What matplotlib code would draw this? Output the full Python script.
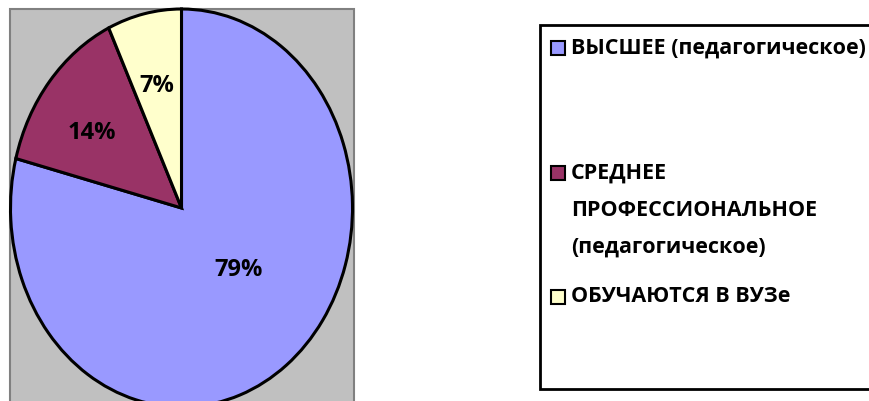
import matplotlib
matplotlib.use("Agg")
import matplotlib.pyplot as plt
from matplotlib.patches import Rectangle

plt.rcParams['font.family'] = ['Open Sans', 'DejaVu Sans']

categories = ["ВЫСШЕЕ (педагогическое)",
              "СРЕДНЕЕ\nПРОФЕССИОНАЛЬНОЕ\n(педагогическое)",
              "ОБУЧАЮТСЯ В ВУЗе"]
values = [79, 14, 7]
colors = ["#9999FF", "#993366", "#FFFFCC"]

W, H = 869, 401
fig = plt.figure(figsize=(W / 100, H / 100), dpi=100)
fig.patch.set_facecolor("white")

def fx(px):
    return px / W

def fy(py):
    return 1 - py / H

# plot area background
fig.patches.append(Rectangle((fx(9.5), fy(420)), fx(344.5), (420 - 8.5) / H,
                             transform=fig.transFigure, facecolor="#C0C0C0",
                             edgecolor="#808080", linewidth=1.5, zorder=-5))

# pie axes (ellipse: center (181.5, 208), rx 171, ry 199)
cx, cy, rx, ry = 181.5, 208, 171, 199
ax = fig.add_axes([fx(cx - rx), fy(cy + ry), 2 * rx / W, 2 * ry / H])
ax.set_zorder(2)
wedges, texts, autotexts = ax.pie(values, colors=colors, startangle=90, counterclock=False,
                                  autopct="%1.0f%%", pctdistance=0.6,
                                  wedgeprops=dict(edgecolor="black", linewidth=2.2),
                                  textprops=dict(fontsize=17, fontweight="bold", color="black"))
ax.set_xlim(-1.0, 1.0)
ax.set_ylim(-1.0, 1.0)
ax.set_aspect("auto")
ax.axis("off")
ax.patch.set_visible(False)

label_pos = [(238.5, 270), (92, 133), (157, 86)]
for t, (px, py) in zip(autotexts, label_pos):
    t.set_position(((px - cx) / rx, (cy - py) / ry))
    t.set_ha("center")
    t.set_va("center")

# legend
fig.patches.append(Rectangle((fx(540), fy(389)), fx(400), (389 - 25) / H,
                             transform=fig.transFigure, facecolor="white",
                             edgecolor="black", linewidth=2, zorder=-4))
entry_y = [48, 173, 297]
line_gap = 37
for lab, col, y in zip(categories, colors, entry_y):
    fig.patches.append(Rectangle((fx(551), fy(y + 7)), 14 / W, 14 / H,
                                 transform=fig.transFigure, facecolor=col,
                                 edgecolor="black", linewidth=1.5, zorder=3))
    for i, line in enumerate(lab.split("\n")):
        fig.text(fx(571), fy(y + i * line_gap), line, fontsize=15.5, fontweight="bold",
                 ha="left", va="center", zorder=3)

fig.savefig("out.png", dpi=100)
